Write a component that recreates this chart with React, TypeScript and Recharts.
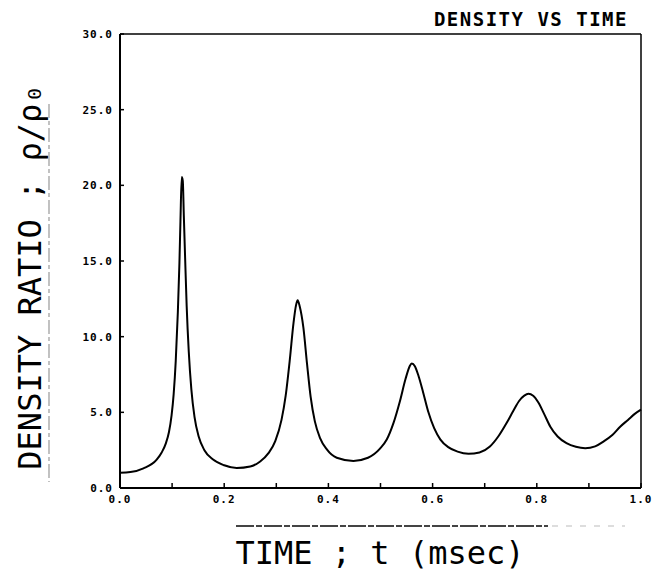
import React from 'react';
import { LineChart, Line, XAxis, YAxis, ReferenceLine } from 'recharts';

// time (msec)
const times = [
  0.0, 0.02, 0.045, 0.07, 0.08, 0.088, 0.094, 0.099, 0.103, 0.107, 0.111,
  0.114, 0.116, 0.1185, 0.1205, 0.1225, 0.125, 0.128, 0.132, 0.137, 0.143,
  0.151, 0.162, 0.178, 0.2, 0.224, 0.25, 0.269, 0.285, 0.298, 0.31,
  0.318, 0.326, 0.333, 0.338, 0.341, 0.345, 0.352, 0.359, 0.366, 0.374,
  0.384, 0.397, 0.416, 0.448, 0.476, 0.499, 0.512, 0.525, 0.537, 0.548,
  0.556, 0.56, 0.566, 0.573, 0.582, 0.592, 0.603, 0.615, 0.63, 0.648,
  0.669, 0.69, 0.71, 0.727, 0.742, 0.755, 0.766, 0.776, 0.784, 0.793,
  0.803, 0.814, 0.826, 0.84, 0.857, 0.875, 0.893, 0.912, 0.928, 0.945,
  0.96, 0.975, 0.988, 1.0,
];
// density ratio rho/rho0
const densityRatio = [
  1.0, 1.05, 1.3, 1.86, 2.35, 2.95, 3.7, 4.8, 6.2, 8.4, 11.6,
  14.8, 17.6, 20.55, 20.3, 18.0, 15.2, 12.0, 9.0, 6.5, 4.7,
  3.4, 2.5, 1.9, 1.5, 1.32, 1.42, 1.75, 2.3, 3.1, 4.5,
  6.1, 8.5, 10.9, 12.1, 12.4, 12.0, 10.6, 8.2, 6.0, 4.4,
  3.3, 2.55, 2.0, 1.79, 2.0, 2.6, 3.2, 4.3, 5.7, 7.2,
  8.05, 8.23, 8.05, 7.4, 6.3, 5.0, 3.95, 3.2, 2.7, 2.4,
  2.26, 2.35, 2.74, 3.45, 4.29, 5.1, 5.75, 6.1, 6.22, 6.1,
  5.65, 4.9, 4.05, 3.4, 2.96, 2.72, 2.63, 2.75, 3.07, 3.5,
  4.05, 4.5, 4.9, 5.18,
];
const xTicks = [0, 0.1, 0.2, 0.3, 0.4, 0.5, 0.6, 0.7, 0.8, 0.9, 1.0];
const xLabelTicks = [0, 0.2, 0.4, 0.6, 0.8, 1.0];
const yTicks = [0, 5, 10, 15, 20, 25, 30];

const title = 'DENSITY VS TIME';
const xTitle = 'TIME ; t (msec)';
const yTitle = 'DENSITY RATIO ; ρ/ρ₀';

const data = times.map((t, i) => ({ t, rho: densityRatio[i] }));

const MONO = "'DejaVu Sans Mono', 'Liberation Mono', monospace";

const XTick = (props: any) => {
  const { x, y, payload } = props;
  const v = payload.value as number;
  const labeled = xLabelTicks.some((l) => Math.abs(l - v) < 1e-9);
  return (
    <g>
      <line x1={x} y1={y} x2={x} y2={y - 5} stroke="#000" strokeWidth={1.5} />
      {labeled && (
        <text
          x={x}
          y={y + 15}
          textAnchor="middle"
          fontFamily={MONO}
          fontWeight="bold"
          fontSize={11}
          letterSpacing={1}
          fill="#000"
        >
          {v.toFixed(1)}
        </text>
      )}
    </g>
  );
};

const YTick = (props: any) => {
  const { x, y, payload } = props;
  const v = payload.value as number;
  return (
    <g>
      <line x1={x} y1={y} x2={x + 4} y2={y} stroke="#000" strokeWidth={1.5} />
      <text
        x={x - 7}
        y={y + 4}
        textAnchor="end"
        fontFamily={MONO}
        fontWeight="bold"
        fontSize={11}
        letterSpacing={1}
        fill="#000"
      >
        {v.toFixed(1)}
      </text>
    </g>
  );
};

export default function App() {
  return (
    <div style={{ position: 'absolute', left: 0, top: 0, width: 664, height: 572, background: '#fff' }}>
      <LineChart
        width={664}
        height={572}
        data={data}
        margin={{ top: 34, right: 23, bottom: 54, left: 60 }}
      >
        <XAxis
          dataKey="t"
          type="number"
          domain={[0, 1]}
          ticks={xTicks}
          interval={0}
          tickLine={false}
          tickSize={0}
          tickMargin={0}
          tick={<XTick />}
          height={30}
          axisLine={{ stroke: '#000', strokeWidth: 2 }}
        />
        <YAxis
          type="number"
          domain={[0, 30]}
          ticks={yTicks}
          interval={0}
          tickLine={false}
          tickSize={0}
          tickMargin={0}
          tick={<YTick />}
          width={60}
          axisLine={{ stroke: '#000', strokeWidth: 2 }}
        />
        <ReferenceLine y={30} stroke="#000" strokeWidth={1.5} />
        <ReferenceLine x={1} stroke="#000" strokeWidth={1.5} />
        <Line
          type="monotone"
          dataKey="rho"
          stroke="#000"
          strokeWidth={2}
          dot={false}
          isAnimationActive={false}
        />
      </LineChart>
      <svg
        width={664}
        height={572}
        style={{ position: 'absolute', left: 0, top: 0, pointerEvents: 'none' }}
      >
        <text
          x={628}
          y={26}
          textAnchor="end"
          fontFamily={MONO}
          fontWeight="bold"
          fontSize={19}
          letterSpacing={1.5}
          fill="#000"
        >
          {title}
        </text>
        <text
          x={0}
          y={0}
          transform="translate(41,277) rotate(-90)"
          textAnchor="middle"
          fontFamily={MONO}
          fontSize={32}
          fill="#000"
        >
          {yTitle}
        </text>
        <line x1={49} y1={104} x2={49} y2={482} stroke="#999" strokeWidth={1.2} strokeDasharray="14 3 4 3" />
        <text
          x={380}
          y={564}
          textAnchor="middle"
          fontFamily={MONO}
          fontSize={32}
          fill="#000"
        >
          {xTitle}
        </text>
        <line x1={236} y1={526} x2={548} y2={526} stroke="#444" strokeWidth={2} strokeDasharray="18 2 6 2" />
        <line x1={552} y1={526} x2={625} y2={526} stroke="#bbb" strokeWidth={1} strokeDasharray="6 8" />
      </svg>
    </div>
  );
}
